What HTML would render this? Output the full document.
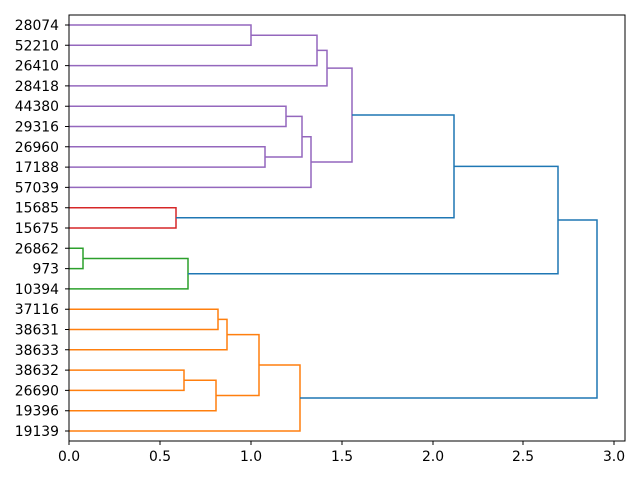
<!DOCTYPE html>
<html><head><style>body{margin:0;background:#fff}svg{display:block}text{font-family:"DejaVu Sans","Liberation Sans",sans-serif;font-size:13.9px;fill:#000}</style></head>
<body>
<svg width="640" height="480" xmlns="http://www.w3.org/2000/svg">
<g fill="none" stroke-width="1.5">
<g stroke="#9467bd">
<path d="M69,25H251V45.3H69"/>
<path d="M251,35.2H317V65.6H69"/>
<path d="M317,50.4H327V85.9H69"/>
<path d="M69,106.2H286V126.5H69"/>
<path d="M69,146.8H265V167.1H69"/>
<path d="M286,116.4H302V157H265"/>
<path d="M302,136.7H311V187.4H69"/>
<path d="M327,68.1H352V162H311"/>
</g>
<path stroke="#d62728" d="M69,207.7H176V228H69"/>
<g stroke="#2ca02c">
<path d="M69,248.3H83V268.6H69"/>
<path d="M83,258.5H188V288.9H69"/>
</g>
<g stroke="#ff7f0e">
<path d="M69,309.2H218V329.5H69"/>
<path d="M218,319.4H227V349.8H69"/>
<path d="M69,370.1H184V390.4H69"/>
<path d="M184,380.2H216V410.7H69"/>
<path d="M227,334.6H259V395.5H216"/>
<path d="M259,365H300V431H69"/>
</g>
<g stroke="#1f77b4">
<path d="M352,115H454V217.8H176"/>
<path d="M454,166.4H558V273.7H188"/>
<path d="M558,220H597V398H300"/>
</g>
</g>
<rect x="69" y="15" width="556" height="426" fill="none" stroke="#000" stroke-width="1"/>
<g stroke="#000">
<path d="M69,441v4M160,441v4M251,441v4M342,441v4M433,441v4M523,441v4M614,441v4"/>
<path d="M65,25h4M65,45.3h4M65,65.6h4M65,85.9h4M65,106.2h4M65,126.5h4M65,146.8h4M65,167.1h4M65,187.4h4M65,207.7h4M65,228h4M65,248.3h4M65,268.6h4M65,288.9h4M65,309.2h4M65,329.5h4M65,349.8h4M65,370.1h4M65,390.4h4M65,410.7h4M65,431h4"/>
</g>
<g text-anchor="middle">
<text x="69" y="461">0.0</text><text x="160" y="461">0.5</text><text x="251" y="461">1.0</text><text x="342" y="461">1.5</text><text x="433" y="461">2.0</text><text x="523" y="461">2.5</text><text x="614" y="461">3.0</text>
</g>
<g text-anchor="end">
<text x="59" y="30">28074</text><text x="59" y="50.3">52210</text><text x="59" y="70.6">26410</text><text x="59" y="90.9">28418</text><text x="59" y="111.2">44380</text><text x="59" y="131.5">29316</text><text x="59" y="151.8">26960</text><text x="59" y="172.1">17188</text><text x="59" y="192.4">57039</text><text x="59" y="212.7">15685</text><text x="59" y="233">15675</text><text x="59" y="253.3">26862</text><text x="59" y="273.6">973</text><text x="59" y="293.9">10394</text><text x="59" y="314.2">37116</text><text x="59" y="334.5">38631</text><text x="59" y="354.8">38633</text><text x="59" y="375.1">38632</text><text x="59" y="395.4">26690</text><text x="59" y="415.7">19396</text><text x="59" y="436">19139</text>
</g>
</svg>
</body></html>
